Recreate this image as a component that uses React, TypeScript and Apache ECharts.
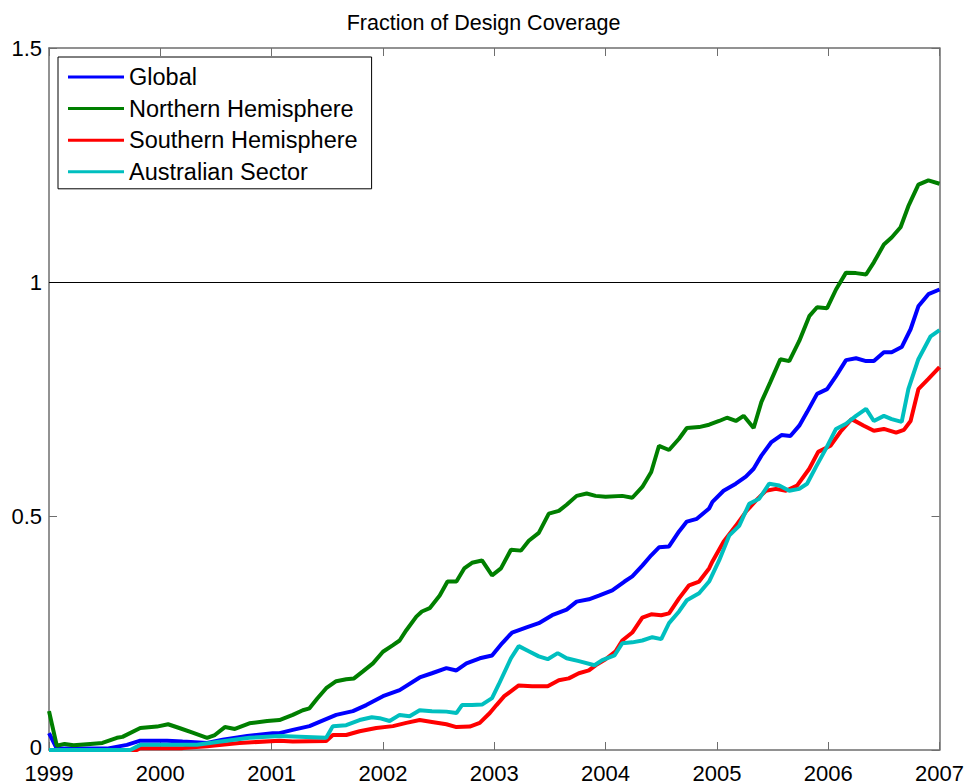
import React, { useEffect, useRef } from "react";
import * as echarts from "echarts";

const titleText = "Fraction of Design Coverage";
const xTicks = [1999, 2000, 2001, 2002, 2003, 2004, 2005, 2006, 2007];
const yTicks = [0, 0.5, 1, 1.5];
const seriesNames = ["Global", "Northern Hemisphere", "Southern Hemisphere", "Australian Sector"];
const seriesColors = ["#0000ff", "#007f00", "#ff0000", "#00bfbf"];
const referenceLevel = 1;

const globalData: number[][] = [
  [1999.0, 0.036], [1999.07, 0.003], [1999.52, 0.003], [1999.7, 0.011], [1999.82, 0.02], [2000.06, 0.02],
  [2000.2, 0.018], [2000.42, 0.015], [2000.56, 0.022], [2000.78, 0.03], [2001.01, 0.036], [2001.07, 0.036],
  [2001.19, 0.043], [2001.34, 0.051], [2001.43, 0.06], [2001.58, 0.075], [2001.73, 0.083], [2001.85, 0.096],
  [2002.0, 0.115], [2002.15, 0.128], [2002.33, 0.155], [2002.44, 0.164], [2002.57, 0.175], [2002.66, 0.17],
  [2002.75, 0.185], [2002.87, 0.196], [2002.98, 0.202], [2003.07, 0.228], [2003.16, 0.251], [2003.29, 0.262],
  [2003.4, 0.271], [2003.52, 0.288], [2003.65, 0.3], [2003.74, 0.317], [2003.85, 0.322], [2003.94, 0.33],
  [2004.06, 0.341], [2004.17, 0.36], [2004.24, 0.371], [2004.33, 0.394], [2004.41, 0.416], [2004.48, 0.433],
  [2004.57, 0.435], [2004.66, 0.467], [2004.73, 0.488], [2004.82, 0.494], [2004.93, 0.516], [2004.96, 0.53],
  [2005.06, 0.554], [2005.17, 0.569], [2005.26, 0.584], [2005.33, 0.601], [2005.4, 0.629], [2005.49, 0.658],
  [2005.58, 0.673], [2005.66, 0.671], [2005.74, 0.693], [2005.81, 0.722], [2005.9, 0.761], [2005.99, 0.771],
  [2006.07, 0.799], [2006.16, 0.833], [2006.25, 0.837], [2006.34, 0.831], [2006.41, 0.831], [2006.5, 0.85],
  [2006.57, 0.85], [2006.66, 0.861], [2006.74, 0.899], [2006.81, 0.948], [2006.9, 0.974], [2007.0, 0.984],
];

const northernData: number[][] = [
  [1999.0, 0.083], [1999.07, 0.009], [1999.14, 0.013], [1999.22, 0.01], [1999.37, 0.013], [1999.48, 0.015],
  [1999.61, 0.026], [1999.66, 0.028], [1999.82, 0.047], [1999.97, 0.05], [2000.07, 0.055], [2000.17, 0.047],
  [2000.29, 0.037], [2000.42, 0.026], [2000.49, 0.032], [2000.58, 0.049], [2000.67, 0.045], [2000.8, 0.057],
  [2000.96, 0.062], [2001.07, 0.064], [2001.19, 0.075], [2001.28, 0.085], [2001.34, 0.089], [2001.41, 0.11],
  [2001.49, 0.132], [2001.58, 0.147], [2001.67, 0.151], [2001.74, 0.153], [2001.82, 0.168], [2001.91, 0.185],
  [2002.0, 0.21], [2002.09, 0.224], [2002.15, 0.234], [2002.21, 0.256], [2002.3, 0.285], [2002.35, 0.296],
  [2002.42, 0.303], [2002.51, 0.33], [2002.58, 0.36], [2002.66, 0.36], [2002.73, 0.388], [2002.8, 0.4],
  [2002.89, 0.405], [2002.98, 0.373], [2003.06, 0.388], [2003.15, 0.428], [2003.24, 0.426], [2003.31, 0.447],
  [2003.4, 0.464], [2003.49, 0.505], [2003.58, 0.511], [2003.65, 0.524], [2003.74, 0.543], [2003.83, 0.548],
  [2003.91, 0.543], [2004.0, 0.541], [2004.15, 0.543], [2004.24, 0.539], [2004.33, 0.562], [2004.41, 0.594],
  [2004.48, 0.65], [2004.57, 0.641], [2004.66, 0.665], [2004.73, 0.688], [2004.84, 0.69], [2004.93, 0.695],
  [2005.02, 0.703], [2005.09, 0.71], [2005.17, 0.703], [2005.24, 0.714], [2005.33, 0.688], [2005.4, 0.744],
  [2005.48, 0.786], [2005.57, 0.835], [2005.65, 0.831], [2005.74, 0.874], [2005.83, 0.927], [2005.9, 0.946],
  [2005.99, 0.944], [2006.07, 0.984], [2006.16, 1.02], [2006.25, 1.019], [2006.34, 1.016], [2006.41, 1.042],
  [2006.5, 1.08], [2006.57, 1.095], [2006.65, 1.117], [2006.72, 1.162], [2006.81, 1.208], [2006.9, 1.217],
  [2007.0, 1.21],
];

const southernData: number[][] = [
  [1999.0, 0], [1999.79, 0], [1999.82, 0.004], [2000.2, 0.004], [2000.42, 0.008], [2000.71, 0.015],
  [2001.07, 0.02], [2001.19, 0.018], [2001.49, 0.019], [2001.55, 0.032], [2001.67, 0.032], [2001.79, 0.04],
  [2001.94, 0.047], [2002.09, 0.051], [2002.21, 0.058], [2002.33, 0.064], [2002.44, 0.06], [2002.57, 0.055],
  [2002.66, 0.049], [2002.78, 0.05], [2002.87, 0.058], [2002.96, 0.079], [2003.02, 0.096], [2003.09, 0.115],
  [2003.22, 0.138], [2003.34, 0.136], [2003.48, 0.136], [2003.58, 0.149], [2003.67, 0.153], [2003.76, 0.164],
  [2003.85, 0.17], [2003.91, 0.181], [2004.0, 0.194], [2004.09, 0.211], [2004.15, 0.234], [2004.24, 0.251],
  [2004.33, 0.283], [2004.41, 0.29], [2004.5, 0.288], [2004.57, 0.292], [2004.66, 0.324], [2004.75, 0.352],
  [2004.84, 0.36], [2004.93, 0.388], [2004.96, 0.403], [2005.06, 0.445], [2005.17, 0.479], [2005.26, 0.509],
  [2005.35, 0.533], [2005.44, 0.554], [2005.53, 0.558], [2005.62, 0.554], [2005.72, 0.565], [2005.83, 0.601],
  [2005.91, 0.637], [2006.02, 0.65], [2006.11, 0.68], [2006.21, 0.707], [2006.32, 0.693], [2006.41, 0.682],
  [2006.5, 0.686], [2006.61, 0.678], [2006.68, 0.684], [2006.74, 0.703], [2006.81, 0.771], [2006.9, 0.793],
  [2007.0, 0.818],
];

const australianData: number[][] = [
  [1999.0, 0], [1999.73, 0], [1999.82, 0.011], [2000.33, 0.011], [2000.51, 0.017], [2000.8, 0.026],
  [2001.07, 0.03], [2001.49, 0.026], [2001.55, 0.051], [2001.67, 0.053], [2001.79, 0.064], [2001.9, 0.07],
  [2001.97, 0.068], [2002.06, 0.062], [2002.15, 0.075], [2002.24, 0.072], [2002.33, 0.085], [2002.44, 0.083],
  [2002.57, 0.082], [2002.66, 0.079], [2002.71, 0.096], [2002.8, 0.096], [2002.89, 0.097], [2002.98, 0.111],
  [2003.04, 0.14], [2003.15, 0.196], [2003.22, 0.222], [2003.31, 0.211], [2003.4, 0.2], [2003.48, 0.194],
  [2003.57, 0.207], [2003.65, 0.196], [2003.76, 0.19], [2003.9, 0.181], [2003.97, 0.192], [2004.08, 0.202],
  [2004.15, 0.228], [2004.24, 0.23], [2004.33, 0.234], [2004.42, 0.241], [2004.5, 0.237], [2004.57, 0.271],
  [2004.66, 0.296], [2004.73, 0.32], [2004.84, 0.335], [2004.93, 0.36], [2005.02, 0.405], [2005.11, 0.458],
  [2005.2, 0.479], [2005.29, 0.526], [2005.38, 0.537], [2005.47, 0.569], [2005.56, 0.565], [2005.65, 0.554],
  [2005.74, 0.558], [2005.81, 0.569], [2005.89, 0.605], [2005.98, 0.644], [2006.07, 0.686], [2006.16, 0.697],
  [2006.25, 0.714], [2006.34, 0.729], [2006.41, 0.703], [2006.5, 0.714], [2006.57, 0.707], [2006.66, 0.701],
  [2006.72, 0.771], [2006.81, 0.835], [2006.92, 0.884], [2007.0, 0.897],
];

const allData = [globalData, northernData, southernData, australianData];

const FONT = "'Liberation Sans', Arial, Helvetica, sans-serif";
const AXIS_COLOR = "#6e6e6e";

export default function App() {
  const ref = useRef<HTMLDivElement>(null);

  useEffect(() => {
    if (!ref.current) return;
    const chart = echarts.init(ref.current, null, { renderer: "svg" });

    const xMin = xTicks[0];
    const xMax = xTicks[xTicks.length - 1];
    const yMin = yTicks[0];
    const yMax = yTicks[yTicks.length - 1];

    const baseAxis = {
      type: "value" as const,
      axisLine: { show: true, onZero: false, lineStyle: { color: AXIS_COLOR, width: 1.5 } },
      axisTick: { show: true, inside: true, length: 8, lineStyle: { color: AXIS_COLOR, width: 1 } },
      splitLine: { show: false },
    };

    const series: any[] = seriesNames.map((name, i) => ({
      name,
      type: "line",
      data: allData[i],
      showSymbol: false,
      symbol: "none",
      lineStyle: { color: seriesColors[i], width: 4 },
      itemStyle: { color: seriesColors[i] },
      z: 2 + i,
      silent: true,
    }));
    series[0].markLine = {
      silent: true,
      symbol: ["none", "none"],
      label: { show: false },
      lineStyle: { color: "#000", width: 1, type: "solid" },
      data: [{ yAxis: referenceLevel }],
      z: 1,
    };

    chart.setOption({
      animation: false,
      backgroundColor: "#ffffff",
      title: {
        text: titleText,
        left: "center",
        top: 7,
        textStyle: { fontFamily: FONT, fontSize: 21.5, fontWeight: "normal", color: "#000" },
      },
      legend: {
        orient: "vertical",
        left: 58,
        top: 57,
        padding: [7, 14, 4, 10],
        itemGap: 5.6,
        itemWidth: 56,
        itemHeight: 3,
        icon: "rect",
        backgroundColor: "#fff",
        borderColor: "#000",
        borderWidth: 1,
        data: seriesNames,
        textStyle: { fontFamily: FONT, fontSize: 23.5, color: "#000", lineHeight: 26, padding: [0, 0, 0, 0] },
      },
      grid: { left: 49, top: 48, right: 26, bottom: 32, containLabel: false },
      xAxis: [
        {
          ...baseAxis,
          position: "bottom",
          min: xMin,
          max: xMax,
          interval: 1,
          axisLabel: {
            show: true,
            formatter: (v: number) => String(v),
            fontFamily: FONT,
            fontSize: 22,
            lineHeight: 18,
            color: "#000",
            margin: 14,
          },
        },
        {
          ...baseAxis,
          position: "top",
          min: xMin,
          max: xMax,
          interval: 1,
          axisLabel: { show: false },
        },
      ],
      yAxis: [
        {
          ...baseAxis,
          position: "left",
          min: yMin,
          max: yMax,
          interval: 0.5,
          axisLabel: {
            show: true,
            formatter: (v: number) => (v === yMin ? "{z|" + String(v) + "}" : String(v)),
            fontFamily: FONT,
            fontSize: 22,
            lineHeight: 16,
            color: "#000",
            margin: 7,
            rich: {
              z: { fontFamily: FONT, fontSize: 22, lineHeight: 16, color: "#000", padding: [0, 0, 5, 0] },
            },
          },
        },
        {
          ...baseAxis,
          position: "right",
          min: yMin,
          max: yMax,
          interval: 0.5,
          axisLabel: { show: false },
        },
      ],
      series,
    });

    return () => chart.dispose();
  }, []);

  return (
    <div
      ref={ref}
      style={{ position: "fixed", left: 0, top: 0, width: 967, height: 784, background: "#fff" }}
    />
  );
}
